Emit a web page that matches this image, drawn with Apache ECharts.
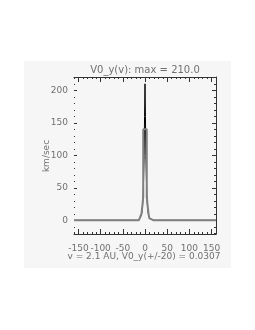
<!DOCTYPE html>
<html><head><meta charset="utf-8">
<script src="https://cdn.jsdelivr.net/npm/echarts@6/dist/echarts.min.js"></script>
<style>html,body{margin:0;padding:0;background:#fff}#c{width:255px;height:330px}</style>
</head><body><div id="c"></div>
<script>
// data (velocity km/sec vs value)
var titleText = 'V0_y(v): max = 210.0';
var subText = 'v = 2.1 AU, V0_y(+/-20) = 0.0307';
var yName = 'km/sec';
var xMajor = [-150, -100, -50, 0, 50, 100, 150];
var xMinor = [-160, -140, -130, -120, -110, -90, -80, -70, -60, -40, -30, -20, -10, 10, 20, 30, 40, 60, 70, 80, 90, 110, 120, 130, 140, 160];
var yMajor = [0, 50, 100, 150, 200];
var yMinor = [-20, -10, 10, 20, 30, 40, 60, 70, 80, 90, 110, 120, 130, 140, 160, 170, 180, 190, 210, 220];
// black thin curve
var blackX = [-160, -100, -50, -20, -14, -10, -8, -6, -4, -2, -1, 0, 1, 2, 4, 6, 8, 10, 14, 20, 50, 100, 160];
var blackY = [0, 0, 0, 0, 0, 3, 8, 18, 40, 100, 160, 210, 160, 100, 40, 18, 8, 3, 0, 0, 0, 0, 0];
// gray thick curve
var grayX = [-160, -100, -50, -20, -14, -10, -8, -6, -4, -4, 4, 4, 6, 8, 10, 14, 20, 50, 100, 160];
var grayY = [0, 0, 0, 0, 0, 3, 10, 22, 36, 140, 140, 36, 22, 10, 3, 0, 0, 0, 0, 0];

function pairs(xs, ys) { return xs.map(function (x, i) { return [x, ys[i]]; }); }

var axisCol = '#333';
var txtCol = '#707070';
var font = 'DejaVu Sans';
var XMIN = -160, XMAX = 160, YMIN = -21, YMAX = 220.5;

function xAx(pos, showLine, vals, len, labels) {
  return {
    type: 'value', position: pos, min: XMIN, max: XMAX,
    axisLine: { show: showLine, onZero: false, lineStyle: { color: axisCol, width: 1 } },
    axisTick: { show: true, inside: true, length: len, customValues: vals, lineStyle: { color: axisCol } },
    axisLabel: labels ? { show: true, customValues: xMajor, color: txtCol, fontSize: 9, fontFamily: font, margin: 10 } : { show: false },
    splitLine: { show: false }
  };
}
function yAx(pos, showLine, vals, len, labels) {
  return {
    type: 'value', position: pos, min: YMIN, max: YMAX,
    axisLine: { show: showLine, onZero: false, lineStyle: { color: axisCol, width: 1 } },
    axisTick: { show: true, inside: true, length: len, customValues: vals, lineStyle: { color: axisCol } },
    axisLabel: labels ? { show: true, customValues: yMajor, color: txtCol, fontSize: 9, fontFamily: font, margin: 6 } : { show: false },
    splitLine: { show: false }
  };
}

var chart = echarts.init(document.getElementById('c'), null, { renderer: 'canvas' });
chart.setOption({
  animation: false,
  backgroundColor: '#ffffff',
  grid: { left: 74, top: 77, width: 142, height: 157, containLabel: false },
  graphic: [
    { type: 'rect', z: -10, silent: true, shape: { x: 24, y: 61, width: 207, height: 207 }, style: { fill: '#f6f6f6' } },
    { type: 'text', z: 10, x: 145, y: 70, style: { text: titleText, align: 'center', verticalAlign: 'middle', fill: txtCol, font: '10px DejaVu Sans' } },
    { type: 'text', z: 10, x: 144, y: 257, style: { text: subText, align: 'center', verticalAlign: 'middle', fill: txtCol, font: '9px DejaVu Sans' } },
    { type: 'text', z: 10, rotation: Math.PI / 2, x: 47, y: 156, style: { text: yName, align: 'center', verticalAlign: 'middle', fill: txtCol, font: '9px DejaVu Sans' } }
  ],
  xAxis: [
    xAx('bottom', true, xMajor, 5, true),
    xAx('bottom', false, xMinor, 2, false),
    xAx('top', true, xMajor, 5, false),
    xAx('top', false, xMinor, 2, false)
  ],
  yAxis: [
    yAx('left', false, yMajor, 3, true),
    yAx('left', false, yMinor, 1, false),
    yAx('right', true, yMajor, 4, false),
    yAx('right', false, yMinor, 2, false)
  ],
  series: [
    { type: 'line', xAxisIndex: 0, yAxisIndex: 0, data: pairs(blackX, blackY), showSymbol: false, symbol: 'none', lineStyle: { color: '#000', width: 1 }, z: 2 },
    { type: 'line', xAxisIndex: 0, yAxisIndex: 0, data: pairs(grayX, grayY), showSymbol: false, symbol: 'none', lineStyle: { color: '#808080', width: 2 }, z: 3 }
  ]
});
</script></body></html>
